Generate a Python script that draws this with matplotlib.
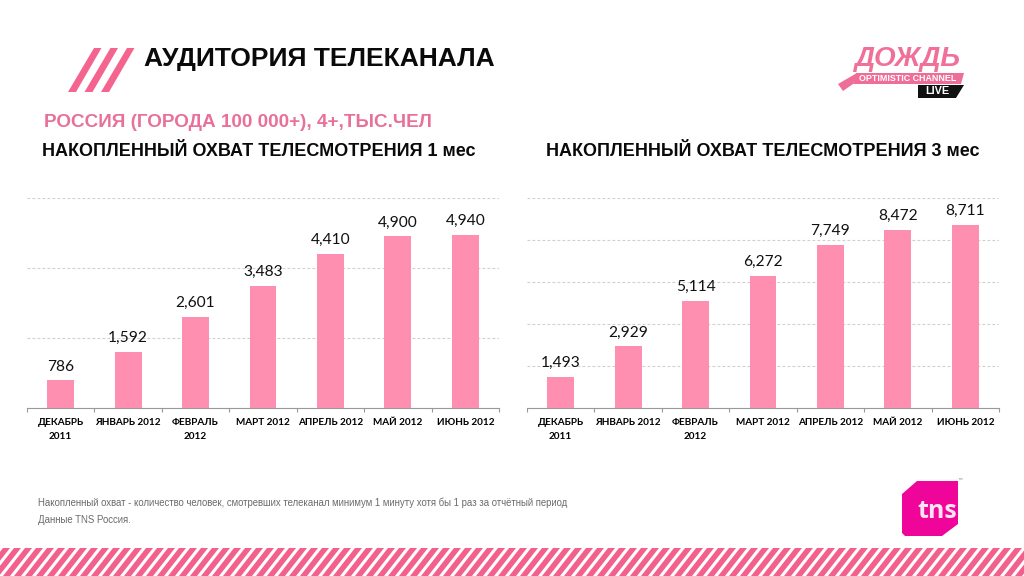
import matplotlib
matplotlib.use("Agg")
import matplotlib.pyplot as plt
from matplotlib.patches import Polygon

PINK_BAR = "#ff8fb1"
PINK_STRIPE = "#f4608c"
PINK_TEXT = "#e8709a"
MAGENTA = "#f0059a"

months = [
    "ДЕКАБРЬ\n2011",
    "ЯНВАРЬ 2012",
    "ФЕВРАЛЬ\n2012",
    "МАРТ 2012",
    "АПРЕЛЬ 2012",
    "МАЙ 2012",
    "ИЮНЬ 2012",
]
reach_1m = [786, 1592, 2601, 3483, 4410, 4900, 4940]
reach_3m = [1493, 2929, 5114, 6272, 7749, 8472, 8711]

W, H = 1024, 576


def px_rect(x0, y0, x1, y1):
    return [x0 / W, 1 - y1 / H, (x1 - x0) / W, (y1 - y0) / H]


def draw_chart(fig, rect, values, title, title_x, ymax, step):
    ax = fig.add_axes(rect)
    x = range(len(values))
    ax.bar(x, values, width=0.4, color=PINK_BAR, zorder=3)
    for i, v in zip(x, values):
        ax.annotate(f"{v:,}", (i, v), xytext=(0, 5), textcoords="offset points",
                    ha="center", va="bottom", fontsize=11.2, family="Lato", color="#111111")
    ax.set_xlim(-0.5, len(values) - 0.5)
    ax.set_ylim(0, ymax)
    ax.set_yticks(range(0, ymax + 1, step))
    ax.tick_params(axis="y", left=False, labelleft=False)
    ax.grid(axis="y", color="#cfcfcf", linestyle=(0, (2.5, 2)), linewidth=0.8, zorder=0)
    ax.set_axisbelow(True)
    for side in ["top", "left", "right"]:
        ax.spines[side].set_visible(False)
    ax.spines["bottom"].set_color("#999999")
    ax.set_xticks([i - 0.5 for i in range(len(values) + 1)])
    ax.set_xticklabels([])
    ax.tick_params(axis="x", length=3, color="#999999")
    ax.set_xticks(list(x), labels=months, minor=True)
    ax.tick_params(axis="x", which="minor", length=0, pad=7)
    for lab in ax.get_xticklabels(minor=True):
        lab.set_fontsize(7.2)
        lab.set_fontweight("bold")
        lab.set_family("Lato")
        lab.set_linespacing(1.8)
    fig.text(title_x / W, 1 - 152 / H, title, fontsize=13, fontweight="bold",
             family="Liberation Sans", va="center", color="#0a0a0a")
    return ax


fig = plt.figure(figsize=(W / 100, H / 100), dpi=100)

# overlay in pixel coordinates for the slide decoration
bg = fig.add_axes([0, 0, 1, 1])
bg.set_xlim(0, W)
bg.set_ylim(H, 0)
bg.axis("off")

# three slanted stripes next to the heading
for off in [0, 16.5, 33]:
    bg.add_patch(Polygon([(68 + off, 92), (76 + off, 92), (101.5 + off, 48), (94 + off, 48)],
                         closed=True, color="#f4648f", lw=0))

# bottom band
for sx in range(-30, W + 30, 11):
    bg.add_patch(Polygon([(sx, H), (sx + 7, H), (sx + 29, 548), (sx + 22, 548)],
                         closed=True, color=PINK_STRIPE, lw=0))
bg.set_xlim(0, W)

# Dozhd logo
bg.text(908, 59, "ДОЖДЬ", fontsize=20, fontweight="bold", family="Liberation Sans",
        color="#f0709a", ha="center", va="center", style="italic")
bg.add_patch(Polygon([(856, 73), (964, 73), (961, 84), (853, 84)], closed=True, color="#ee6e98", lw=0))
bg.add_patch(Polygon([(838, 84), (857, 73), (853, 84), (843, 91)], closed=True, color="#ee6e98", lw=0))
bg.text(908, 78.5, "OPTIMISTIC CHANNEL", fontsize=6.4, fontweight="bold", family="Liberation Sans",
        color="white", ha="center", va="center")
bg.add_patch(Polygon([(918, 85), (964, 85), (956, 98), (918, 98)], closed=True, color="#111111", lw=0))
bg.text(937, 91.5, "LIVE", fontsize=7.8, fontweight="bold", family="Liberation Sans",
        color="white", ha="center", va="center")

# TNS logo
bg.add_patch(Polygon([(917, 481), (958, 481), (958, 524), (942, 536), (905, 536), (902, 533), (902, 494)],
                     closed=True, color=MAGENTA, lw=0))
bg.text(917, 512, "tns", fontsize=18, fontweight="bold", family="Open Sans",
        color="#fbe3f1", ha="left", va="center")
bg.text(960, 482, "™", fontsize=4, color="#777777", ha="center", va="center")

# headings
bg.text(144, 59, "АУДИТОРИЯ ТЕЛЕКАНАЛА", fontsize=19, fontweight="bold",
        family="Liberation Sans", va="center", color="#0a0a0a")
bg.text(44, 122.5, "РОССИЯ (ГОРОДА 100 000+), 4+,ТЫС.ЧЕЛ", fontsize=13.6, fontweight="bold",
        family="Liberation Sans", va="center", color=PINK_TEXT)

# footnotes
bg.text(38, 503, "Накопленный охват - количество человек, смотревших телеканал минимум 1 минуту хотя бы 1 раз за отчётный период",
        fontsize=6.95, family="Liberation Sans", va="center", color="#6b6b6b")
bg.text(38, 520, "Данные TNS Россия.", fontsize=6.95, family="Liberation Sans", va="center", color="#6b6b6b")

draw_chart(fig, px_rect(27, 198, 499, 408), reach_1m,
           "НАКОПЛЕННЫЙ ОХВАТ ТЕЛЕСМОТРЕНИЯ 1 мес", 42, 6000, 2000)
draw_chart(fig, px_rect(527, 198, 999, 408), reach_3m,
           "НАКОПЛЕННЫЙ ОХВАТ ТЕЛЕСМОТРЕНИЯ 3 мес", 546, 10000, 2000)

fig.savefig("out.png", dpi=100)
plt.close(fig)
